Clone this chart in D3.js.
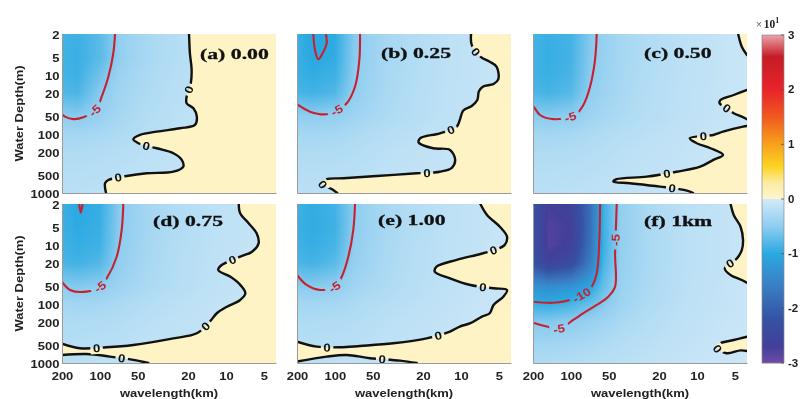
<!DOCTYPE html>
<html>
<head>
<meta charset="utf-8">
<script src="https://cdn.jsdelivr.net/npm/d3@7"></script>
<style>
  body { margin: 0; background: #fff; }
  #wrap { position: relative; width: 800px; height: 399px; overflow: hidden; }
  #field, #chart { position: absolute; left: 0; top: 0; }
</style>
</head>
<body>
<div id="wrap">
  <canvas id="field" width="800" height="399"></canvas>
  <svg id="chart" width="800" height="399"></svg>
</div>
<script>
// ---------- data ----------
const panelTitles = ["(a) 0.00", "(b) 0.25", "(c) 0.50", "(d) 0.75", "(e) 1.00", "(f) 1km"];

// sampling grid of the response field: wavelength (km) columns, water depth (m) rows
const wavelengthGrid = [200, 150, 100, 70, 55, 40, 25, 12, 4];
const depthGrid = [2, 5, 10, 20, 50, 100, 200, 500, 1000];

const xTickValues = [200, 100, 50, 20, 10, 5];
const yTickValues = [2, 5, 10, 20, 50, 100, 200, 500, 1000];
const colorbarTicks = [-3, -2, -1, 0, 1, 2, 3];   // x 10^1

// field values (rows = depthGrid, cols = wavelengthGrid)
const fieldA = [
  [-8.6, -9.0, -7.5, -4.7, -3.8, -3.0, -2.3, -1.5, -0.7],
  [-8.8, -9.2, -7.6, -4.7, -3.8, -3.0, -2.3, -1.5, -0.7],
  [-8.6, -9.0, -6.5, -4.0, -3.4, -2.8, -2.1, -1.4, -0.7],
  [-8.0, -8.3, -5.3, -3.7, -3.2, -2.6, -2.0, -1.3, -0.7],
  [-4.95, -5.3, -4.3, -3.3, -2.8, -2.3, -1.8, -1.2, -0.7],
  [-3.3, -3.4, -3.1, -2.7, -2.4, -2.0, -1.6, -1.1, -0.6],
  [-2.6, -2.6, -2.4, -2.2, -2.0, -1.7, -1.4, -1.0, -0.6],
  [-2.1, -2.1, -2.0, -1.8, -1.6, -1.4, -1.2, -0.9, -0.6],
  [-1.8, -1.8, -1.7, -1.5, -1.4, -1.2, -1.0, -0.8, -0.6]
];
const fieldB = [
  [-9.2, -10.3, -9.8, -5.4, -4.3, -3.3, -2.5, -1.6, -0.7],
  [-9.2, -10.05, -9.6, -5.3, -4.3, -3.3, -2.5, -1.6, -0.7],
  [-9.0, -9.6, -9.0, -5.1, -4.1, -3.2, -2.4, -1.6, -0.7],
  [-8.4, -8.8, -8.0, -4.7, -3.9, -3.1, -2.3, -1.5, -0.7],
  [-4.7, -4.85, -4.6, -3.8, -3.3, -2.8, -2.2, -1.5, -0.7],
  [-3.3, -3.4, -3.2, -2.8, -2.5, -2.2, -1.8, -1.2, -0.6],
  [-2.6, -2.6, -2.5, -2.3, -2.1, -1.8, -1.5, -1.1, -0.6],
  [-2.1, -2.1, -2.0, -1.9, -1.7, -1.5, -1.3, -1.0, -0.6],
  [-1.8, -1.8, -1.7, -1.6, -1.5, -1.3, -1.1, -0.8, -0.6]
];
const fieldC = [
  [-8.6, -9.2, -8.6, -5.5, -4.3, -3.3, -2.5, -1.6, -0.7],
  [-8.8, -9.4, -8.7, -5.4, -4.3, -3.3, -2.5, -1.6, -0.7],
  [-8.7, -9.2, -8.4, -5.2, -4.1, -3.2, -2.4, -1.6, -0.7],
  [-8.2, -8.6, -7.7, -4.8, -3.9, -3.1, -2.3, -1.5, -0.7],
  [-5.1, -5.3, -4.9, -3.8, -3.3, -2.8, -2.2, -1.5, -0.7],
  [-3.3, -3.4, -3.2, -2.8, -2.5, -2.2, -1.8, -1.2, -0.6],
  [-2.6, -2.6, -2.5, -2.3, -2.1, -1.8, -1.5, -1.1, -0.6],
  [-2.1, -2.1, -2.0, -1.9, -1.7, -1.5, -1.3, -1.0, -0.6],
  [-1.8, -1.8, -1.7, -1.6, -1.5, -1.3, -1.1, -0.8, -0.6]
];
const fieldD = [
  [-9.2, -10.03, -9.4, -5.3, -4.3, -3.3, -2.5, -1.6, -0.7],
  [-9.1, -9.8, -9.2, -5.2, -4.2, -3.3, -2.5, -1.6, -0.7],
  [-8.9, -9.5, -8.9, -5.0, -4.1, -3.2, -2.4, -1.6, -0.7],
  [-8.4, -8.8, -8.0, -4.7, -3.9, -3.1, -2.3, -1.5, -0.7],
  [-5.2, -5.5, -5.0, -3.9, -3.4, -2.8, -2.2, -1.5, -0.7],
  [-3.4, -3.5, -3.3, -2.9, -2.6, -2.2, -1.8, -1.2, -0.6],
  [-2.6, -2.6, -2.5, -2.3, -2.1, -1.8, -1.5, -1.1, -0.6],
  [-2.1, -2.1, -2.0, -1.9, -1.7, -1.5, -1.3, -1.0, -0.6],
  [-1.8, -1.8, -1.7, -1.6, -1.5, -1.3, -1.1, -0.8, -0.6]
];
const fieldE = [
  [-9.0, -9.6, -8.8, -5.0, -4.1, -3.2, -2.4, -1.6, -0.7],
  [-9.1, -9.7, -8.9, -5.0, -4.1, -3.2, -2.4, -1.6, -0.7],
  [-8.9, -9.4, -8.5, -4.8, -3.9, -3.1, -2.3, -1.5, -0.7],
  [-8.3, -8.7, -7.6, -4.5, -3.7, -3.0, -2.2, -1.5, -0.7],
  [-5.2, -5.4, -4.8, -3.7, -3.2, -2.7, -2.1, -1.4, -0.7],
  [-3.3, -3.4, -3.2, -2.8, -2.5, -2.2, -1.8, -1.2, -0.6],
  [-2.6, -2.6, -2.5, -2.3, -2.1, -1.8, -1.5, -1.1, -0.6],
  [-2.1, -2.1, -2.0, -1.9, -1.7, -1.5, -1.3, -1.0, -0.6],
  [-1.8, -1.8, -1.7, -1.6, -1.5, -1.3, -1.1, -0.8, -0.6]
];
const fieldF = [
  [-22, -27, -26, -18, -9, -4.6, -3.0, -1.8, -0.8],
  [-23, -28, -27, -18, -9, -4.6, -3.0, -1.8, -0.8],
  [-23, -28, -26.5, -17.5, -9, -4.6, -3.0, -1.8, -0.8],
  [-22, -26, -24, -16, -8.5, -4.5, -3.0, -1.8, -0.8],
  [-13, -14, -13, -10.5, -7, -4.2, -2.9, -1.7, -0.8],
  [-9.2, -9.5, -8.5, -7, -5.5, -3.8, -2.7, -1.6, -0.8],
  [-5.6, -5.6, -5.0, -4.3, -3.7, -3.0, -2.3, -1.4, -0.7],
  [-3.5, -3.5, -3.2, -2.9, -2.6, -2.2, -1.8, -1.2, -0.6],
  [-2.6, -2.6, -2.4, -2.2, -2.0, -1.8, -1.5, -1.0, -0.6]
];

// contour lines as [wavelength km, depth m]
const zeroA = [[19.6,2],[19.3,4.24],[18.7,8.2],[19.0,13.8],[20.5,23.2],[20.5,30],[18.1,36.5],[17.0,50.6],[17.6,70],[23.1,79.6],[35.4,91],[48,103.5],[54.3,122.5],[49.5,143],[35.4,174],[26.1,211],[22.4,274],[21.8,357],[26.1,435],[42.5,463],[61.3,514],[85.7,600],[91,683],[89.4,1000]];
const minus5A = [[75.9,2],[78.3,4.24],[85.7,10.66],[96.8,23.2],[106,36.5],[135.4,51.9],[162.6,55.7],[189.5,50.6],[200,46.1]];

const zeroB = [[8.3,2],[8.2,3.07],[7.0,4.86],[5.9,5.91],[5.2,7.2],[5.05,11.8],[5.5,14.1],[6.7,15.7],[7.2,18.9],[7.4,26.4],[8.2,33.3],[9.6,40.1],[10.2,57.6],[10.8,74.8],[14.7,96.9],[21.1,117.8],[21.6,139.5],[16.6,174],[12.2,186],[11.1,274],[11.8,373],[14.7,435],[22.4,463],[46.5,514],[85.7,562],[116.3,584],[127.6,683],[103,886],[95.9,1000]];
const minus5B = [[63.2,2],[64,5.54],[69.3,15.7],[80.6,30],[96,39],[116.3,46.1],[157.7,41.6],[196.4,32.1],[200,31.5]];
const minus10B = [[148.5,2],[143.9,3.74],[135.4,5.39],[123.6,4.0],[116.3,2.88],[117.8,2]];

const zeroC1 = [[4.7,2],[4.4,3.28],[4.0,4.54]];
const zeroC2 = [[4.0,17.8],[5.1,21.7],[6.5,26.4],[6.6,30],[5.8,36],[5.1,44.3],[4.4,50.6],[4.0,56]];
const zeroC3 = [[4.0,73],[4.3,74.8],[6.2,91],[7.4,103.5],[11.4,117.8],[10.0,143],[7.8,174],[6.2,226],[7.4,274],[9.4,357],[14.5,435],[25,528],[43.3,584],[46,641],[34,683],[19.6,778],[12,910],[10.7,1000]];
const minus5C = [[62.4,2],[64.4,5.54],[70.5,15.7],[79.7,32.1],[92.9,47.4],[138,55.7],[176,47.4],[196,35.1],[200,34]];

const zeroD1 = [[7.9,2],[7.7,2.88],[6.6,4.24],[5.7,6.3],[5.5,9.32],[6.2,12.9],[7.7,15.7],[10.8,21.7],[11.5,26.4],[9.2,34.3],[7.9,44.3],[7.0,65.5],[7.7,85.1],[9.8,110.6],[11.8,143],[13.4,198],[17.0,313],[26.1,381],[54.3,494],[88.3,541],[143.9,562],[200,470]];
const zeroD2 = [[200,730],[127.6,703],[83.2,778],[54.3,886],[41.3,1000]];
const minus5D = [[65.2,2],[67.2,5.54],[73.6,15.7],[88.3,36.5],[100,50.6],[127.6,61.5],[172.8,57.6],[200,41.6]];
const minus10D = [[146,2],[142,2.8],[137,2]];

const zeroE1 = [[7.0,2],[6.2,3.07],[4.9,4.86],[4.3,7.2],[4.5,9.97],[5.5,12.1],[7.0,14.1],[10.8,17.8],[15.6,23.2],[16.1,28.2],[12.2,36.5],[8.4,47.4],[5.5,53.9],[4.3,57.6],[4.6,74.8],[5.5,103.5],[5.9,143],[6.8,163],[8.4,211],[10.2,241],[12.2,293],[18.7,381],[34.4,463],[63.2,514],[91,541],[139.5,528],[200,435]];
const zeroE2 = [[200,946],[116.3,778],[80.6,730],[52.6,829],[30.4,910],[22.4,1000]];
const minus5E = [[69.3,2],[71.5,5.54],[78.3,15.7],[88.3,34.3],[100,50.6],[131.3,57.6],[167.5,47.4],[200,32]];

const zeroF1 = [[5.4,2],[5.1,3.07],[4.5,4.86],[4.3,8.2],[4.4,12.1],[4.8,16.7],[6.0,24.7],[5.4,32.1],[4.4,39],[4.0,43.5]];
const zeroF2 = [[4.0,357],[5.1,407],[7.0,494],[6.9,560],[5.8,683],[4.5,610],[4.0,625]];
const minus5F = [[43.3,2],[43.8,4.24],[44.6,14.1],[44.6,50.6],[50.5,74.8],[62.4,103.5],[79.7,143],[95.9,186],[123.6,262],[155.7,241],[192.8,211],[200,205]];
const minus10F = [[58.7,2],[59.5,8.2],[62.4,30],[68.5,50.6],[82,70],[101.8,85.1],[138,95],[200,91]];

// colour map (value -> colour), value units match colorbar x 10^1
const cmapStops = [-30, -27, -22, -16, -10, -5, -0.001, 0, 3, 6, 10, 15, 20, 26, 30];
const cmapColors = ["#6e4ba6", "#433f99", "#3552a3", "#3a7dc3", "#2aa9e1", "#8ecdef", "#d3eaf8",
                    "#fdf5cd", "#fdeba3", "#fbd321", "#f7a11c", "#f1591f", "#e8232a", "#c51c27", "#eba2aa"];

// ---------- panel assembly ----------
const panels = [
  { title: panelTitles[0], field: fieldA,
    lines: [{ level: 0, pts: zeroA, labels: [[19.8,17.8],[42.5,158],[71.5,528]] },
            { level: -5, pts: minus5A, labels: [[110,40]] }],
    positive: [[0, "BR", "TR"]] },
  { title: panelTitles[1], field: fieldB,
    lines: [{ level: 0, pts: zeroB, labels: [[7.6,3.9],[12.2,80],[18.7,463],[125,730]] },
            { level: -5, pts: minus5B, labels: [[96,39]] },
            { level: -10, pts: minus10B, labels: [] }],
    positive: [[0, "BR", "TR"]] },
  { title: panelTitles[2], field: fieldC,
    lines: [{ level: 0, pts: zeroC1, labels: [] },
            { level: 0, pts: zeroC2, labels: [[5.8,36]] },
            { level: 0, pts: zeroC3, labels: [[8.9,110],[17.3,463],[15.8,856]] },
            { level: -5, pts: minus5C, labels: [[100,52]] }],
    positive: [[0, "TR"], [1], [2, "BR"]] },
  { title: panelTitles[3], field: fieldD,
    lines: [{ level: 0, pts: zeroD1, labels: [[8.9,17.8],[14.2,241],[106,560]] },
            { level: 0, pts: zeroD2, labels: [[67.2,840]] },
            { level: -5, pts: minus5D, labels: [[100,50]] },
            { level: -10, pts: minus10D, labels: [] }],
    positive: [[0, 1, "BR", "TR"]] },
  { title: panelTitles[4], field: fieldE,
    lines: [{ level: 0, pts: zeroE1, labels: [[5.5,12.4],[6.7,50.6],[15.2,336],[116.3,545]] },
            { level: 0, pts: zeroE2, labels: [[42.5,880]] },
            { level: -5, pts: minus5E, labels: [[100,50.6]] }],
    positive: [[0, 1, "BR", "TR"]] },
  { title: panelTitles[5], field: fieldF,
    lines: [{ level: 0, pts: zeroF1, labels: [[5.4,21.7]] },
            { level: 0, pts: zeroF2, labels: [[6.8,560]] },
            { level: -5, pts: minus5F, labels: [[44.6,8.2],[123.6,262]] },
            { level: -10, pts: minus10F, labels: [[82,70]] }],
    positive: [[0, "TR"], [1]] }
];

// ---------- layout ----------
const PW = 214, PH = 159;
const colLeft = [62, 297, 533], rowTop = [34, 204];
const titlePos = [[138, 24.5], [84, 23.5], [111, 24.3], [91, 22], [81, 21], [111, 22]];
const SANS = "'Liberation Sans', Arial, Helvetica, sans-serif";
const SERIF = "'Liberation Serif', 'Times New Roman', serif";
const WIDE = 1.3;   // horizontal glyph stretch used for all sans labels

const x = d3.scaleLog().domain([200, 4]).range([0, PW]);
const y = d3.scaleLog().domain([2, 1000]).range([0, PH]);
const cmap = d3.scaleLinear().domain(cmapStops).range(cmapColors).clamp(true);
const gx = d3.scaleLinear().domain(wavelengthGrid.map(Math.log)).range(d3.range(wavelengthGrid.length)).clamp(true);
const gy = d3.scaleLinear().domain(depthGrid.map(Math.log)).range(d3.range(depthGrid.length)).clamp(true);
const positiveColor = cmap(0.6);

// colour lookup table in 0.1 steps
const lut = d3.range(601).map(i => d3.rgb(cmap(-30 + i * 0.1)));
const colorOf = v => lut[Math.round((Math.max(-30, Math.min(30, v)) + 30) * 10)];

function sampleField(field, w, d) {
  const nx = wavelengthGrid.length, ny = depthGrid.length;
  const fx = gx(Math.log(w)), fy = gy(Math.log(d));
  const i0 = Math.min(Math.floor(fx), nx - 2), j0 = Math.min(Math.floor(fy), ny - 2);
  const tx = fx - i0, ty = fy - j0;
  const a = field[j0][i0], b = field[j0][i0 + 1], c = field[j0 + 1][i0], e = field[j0 + 1][i0 + 1];
  return (a * (1 - tx) + b * tx) * (1 - ty) + (c * (1 - tx) + e * tx) * ty;
}

// ---------- shaded fields ----------
const ctx = document.getElementById("field").getContext("2d");
panels.forEach((p, i) => {
  const left = colLeft[i % 3], top = rowTop[Math.floor(i / 3)];
  const img = ctx.createImageData(PW, PH);
  for (let py = 0; py < PH; py++) {
    const d = y.invert(py + 0.5);
    for (let px = 0; px < PW; px++) {
      const w = x.invert(px + 0.5);
      const c = colorOf(sampleField(p.field, w, d));
      const k = (py * PW + px) * 4;
      img.data[k] = c.r; img.data[k + 1] = c.g; img.data[k + 2] = c.b; img.data[k + 3] = 255;
    }
  }
  ctx.putImageData(img, left, top);
});

// ---------- vector layer ----------
const svg = d3.select("#chart");
const defs = svg.append("defs");
const curve = d3.line().x(d => x(d[0])).y(d => y(d[1])).curve(d3.curveCatmullRom.alpha(0.5));
const corners = { TR: [PW + 3, -3], BR: [PW + 3, PH + 3], BL: [-3, PH + 3], TL: [-3, -3] };

function nearestOnPath(node, tx, ty) {
  const total = node.getTotalLength();
  let best = 0, bd = Infinity;
  for (let s = 0; s <= total; s += 1) {
    const q = node.getPointAtLength(s);
    const dd = (q.x - tx) ** 2 + (q.y - ty) ** 2;
    if (dd < bd) { bd = dd; best = s; }
  }
  const q = node.getPointAtLength(best);
  const a = node.getPointAtLength(Math.max(0, best - 4));
  const b = node.getPointAtLength(Math.min(total, best + 4));
  let ang = Math.atan2(b.y - a.y, b.x - a.x) * 180 / Math.PI;
  if (ang > 90) ang -= 180;
  if (ang <= -90) ang += 180;
  return { x: q.x, y: q.y, ang };
}

panels.forEach((p, i) => {
  const col = i % 3, row = Math.floor(i / 3);
  const g = svg.append("g").attr("transform", `translate(${colLeft[col]},${rowTop[row]})`);

  defs.append("clipPath").attr("id", `clip${i}`)
    .append("rect").attr("width", PW).attr("height", PH);
  const inner = g.append("g").attr("clip-path", `url(#clip${i})`);

  // positive (yellow) regions bounded by the zero contours
  p.positive.forEach(region => {
    let dstr = "";
    region.forEach(item => {
      if (typeof item === "number") {
        let s = curve(p.lines[item].pts);
        if (dstr) s = "L" + s.slice(1);
        dstr += s;
      } else {
        const c = corners[item];
        dstr += `L${c[0]},${c[1]}`;
      }
    });
    inner.append("path").attr("d", dstr + "Z").attr("fill", positiveColor);
  });

  // contour lines with gaps for inline labels
  const mask = defs.append("mask").attr("id", `mask${i}`)
    .attr("maskUnits", "userSpaceOnUse")
    .attr("x", -10).attr("y", -10).attr("width", PW + 20).attr("height", PH + 20);
  mask.append("rect").attr("x", -10).attr("y", -10).attr("width", PW + 20).attr("height", PH + 20).attr("fill", "white");
  const lineLayer = inner.append("g").attr("mask", `url(#mask${i})`);
  const labelLayer = inner.append("g");

  p.lines.forEach(L => {
    const stroke = L.level === 0 ? "#111" : "#c8202f";
    const path = lineLayer.append("path")
      .attr("d", curve(L.pts))
      .attr("fill", "none")
      .attr("stroke", stroke)
      .attr("stroke-width", L.level === 0 ? 2.4 : 2.1)
      .attr("stroke-linejoin", "round")
      .attr("stroke-linecap", "round");
    const txt = String(L.level);
    const gap = 6 + txt.length * 6.5;
    L.labels.forEach(a => {
      const pos = nearestOnPath(path.node(), x(a[0]), y(a[1]));
      mask.append("rect")
        .attr("x", -gap / 2).attr("y", -6).attr("width", gap).attr("height", 12)
        .attr("transform", `translate(${pos.x},${pos.y}) rotate(${pos.ang})`)
        .attr("fill", "black");
      labelLayer.append("text")
        .attr("transform", `translate(${pos.x},${pos.y}) rotate(${pos.ang}) scale(1.15,1)`)
        .attr("text-anchor", "middle")
        .attr("dy", "0.36em")
        .attr("font-family", SANS)
        .attr("font-weight", "bold")
        .attr("font-size", 11.5)
        .attr("fill", L.level === 0 ? "#111" : "#c8202f")
        .text(txt);
    });
  });

  // axes
  const ax = g.append("g").attr("transform", `translate(0,${PH})`).attr("color", "#9a9a9a")
    .call(d3.axisBottom(x).tickValues(xTickValues).tickSize(0).tickSizeOuter(0).tickPadding(9.5)
      .tickFormat(row === 1 ? d3.format("d") : () => ""));
  const ay = g.append("g").attr("color", "#9a9a9a")
    .call(d3.axisLeft(y).tickValues(yTickValues).tickSize(0).tickSizeOuter(0).tickPadding(2)
      .tickFormat(col === 0 ? d3.format("d") : () => ""));
  [ax, ay].forEach(a => a.selectAll("text")
    .attr("fill", "#222").attr("font-family", SANS).attr("font-weight", "bold").attr("font-size", 10));
  ax.selectAll("text").attr("transform", `scale(${WIDE},1)`);
  ay.selectAll("text").attr("transform", `scale(${WIDE},1)`).attr("dy", "0.42em");

  if (row === 1) {
    g.append("text")
      .attr("transform", `translate(${PW / 2},${PH + 33.5}) scale(${WIDE},1)`)
      .attr("text-anchor", "middle")
      .attr("font-family", SANS).attr("font-weight", "bold").attr("font-size", 10).attr("fill", "#222")
      .text("wavelength(km)");
  }
  if (col === 0) {
    g.append("text")
      .attr("transform", `translate(-43,${PH / 2}) rotate(-90) scale(${WIDE},1)`)
      .attr("text-anchor", "middle").attr("dy", "0.35em")
      .attr("font-family", SANS).attr("font-weight", "bold").attr("font-size", 10).attr("fill", "#222")
      .text("Water Depth(m)");
  }

  // panel title
  g.append("text")
    .attr("transform", `translate(${titlePos[i][0]},${titlePos[i][1]}) scale(1.45,1)`)
    .attr("font-family", SERIF).attr("font-weight", "bold").attr("font-size", 15).attr("fill", "#111")
    .attr("stroke", "#111").attr("stroke-width", 0.3)
    .text(p.title);
});

// ---------- colorbar ----------
const CB = { left: 762, top: 35, width: 22, height: 328 };
const cbScale = d3.scaleLinear().domain([-30, 30]).range([CB.height, 0]);
const cb = svg.append("g").attr("transform", `translate(${CB.left},${CB.top})`);
cb.selectAll("rect.step")
  .data(d3.range(CB.height))
  .join("rect")
  .attr("class", "step")
  .attr("x", 0).attr("y", d => d)
  .attr("width", CB.width).attr("height", 1.2)
  .attr("fill", d => cmap(cbScale.invert(d + 0.5)));
cb.append("rect").attr("width", CB.width).attr("height", CB.height)
  .attr("fill", "none").attr("stroke", "#8a8a8a").attr("stroke-width", 0.7);
cb.selectAll("line.tick")
  .data(colorbarTicks)
  .join("line")
  .attr("class", "tick")
  .attr("x1", CB.width - 3).attr("x2", CB.width)
  .attr("y1", d => cbScale(d * 10)).attr("y2", d => cbScale(d * 10))
  .attr("stroke", "#555").attr("stroke-width", 0.8);
cb.selectAll("text.tick")
  .data(colorbarTicks)
  .join("text")
  .attr("class", "tick")
  .attr("transform", d => `translate(${CB.width + 4},${cbScale(d * 10)}) scale(1.15,1)`)
  .attr("dy", "0.36em")
  .attr("font-family", SANS).attr("font-weight", "bold").attr("font-size", 10).attr("fill", "#222")
  .text(d => d);

const expo = svg.append("text").attr("x", 756).attr("y", 28);
expo.append("tspan").attr("font-family", SANS).attr("font-size", 10).attr("fill", "#666").text("\u00d7");
expo.append("tspan").attr("dx", 2).attr("font-family", SERIF).attr("font-weight", "bold").attr("font-size", 11.5).attr("fill", "#222").text("10");
expo.append("tspan").attr("dy", -5).attr("font-family", SERIF).attr("font-weight", "bold").attr("font-size", 8).attr("fill", "#222").text("1");
</script>
</body>
</html>
